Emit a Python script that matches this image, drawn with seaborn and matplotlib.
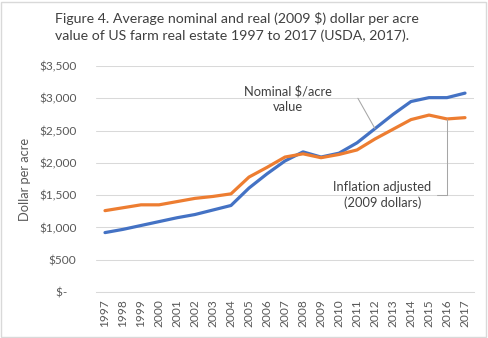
import matplotlib
matplotlib.use("Agg")
import matplotlib.pyplot as plt
import seaborn as sns
import pandas as pd
from matplotlib.patches import Rectangle

years = list(range(1997, 2018))
nominal = [920, 970, 1030, 1090, 1150, 1200, 1270, 1340, 1610, 1830,
           2030, 2170, 2090, 2150, 2310, 2530, 2750, 2950, 3010, 3010, 3080]
real = [1260, 1305, 1350, 1350, 1400, 1450, 1480, 1520, 1780, 1930,
        2090, 2140, 2080, 2130, 2200, 2370, 2520, 2670, 2740, 2680, 2700]
series_names = ["Nominal $/acre value", "Inflation adjusted (2009 dollars)"]
y_ticks = [0, 500, 1000, 1500, 2000, 2500, 3000, 3500]
y_labels = ["$-   ", "$500", "$1,000", "$1,500", "$2,000", "$2,500", "$3,000", "$3,500"]
title = "Figure 4. Average nominal and real (2009 $) dollar per acre\nvalue of US farm real estate 1997 to 2017 (USDA, 2017)."

df = pd.DataFrame({
    "year": years * 2,
    "value": nominal + real,
    "series": [series_names[0]] * len(years) + [series_names[1]] * len(years),
})

sns.set_theme(style="white")
plt.rcParams["font.family"] = ["Lato", "DejaVu Sans"]

W, H = 488, 338
fig = plt.figure(figsize=(W / 100, H / 100), dpi=100)
fig.patch.set_facecolor("white")
fig.add_artist(Rectangle((1 / W, 1 / H), 1 - 3 / W, 1 - 3 / H, transform=fig.transFigure,
                         fill=False, edgecolor="#d9d9d9", lw=1))

ax = fig.add_axes([96 / W, 1 - 292 / H, (474 - 96) / W, (292 - 66) / H])
sns.lineplot(data=df, x="year", y="value", hue="series",
             palette=["#4472C4", "#ED7D31"], lw=2.3, ax=ax, legend=False)

ax.set_xlim(years[0] - 0.5, years[-1] + 0.5)
ax.set_ylim(0, 3500)
ax.set_yticks(y_ticks)
ax.set_yticklabels(y_labels)
ax.set_xticks(years)
ax.set_xticklabels([str(y) for y in years], rotation=90)
ax.tick_params(axis="both", length=0, labelsize=8.6, colors="#595959")
ax.tick_params(axis="y", pad=14)
ax.tick_params(axis="x", pad=5)
ax.grid(axis="y", color="#d9d9d9", lw=0.75)
ax.set_axisbelow(True)
for s in ["top", "left", "right"]:
    ax.spines[s].set_visible(False)
ax.spines["bottom"].set_color("#d9d9d9")
ax.spines["bottom"].set_linewidth(0.75)
ax.set_xlabel("")
ax.set_ylabel("Dollar per acre", fontsize=9.3, color="#595959", labelpad=6)

fig.text(55 / W, 1 - 12 / H, title, ha="left", va="top", fontsize=10.2,
         color="#404040", linespacing=1.45)

ax.text(2007.15, 2990, "Nominal $/acre\nvalue", ha="center", va="center",
        fontsize=9.3, color="#404040", linespacing=1.3)
ax.annotate("", xy=(2012, nominal[15]), xytext=(2011.05, 3000),
            arrowprops=dict(arrowstyle="-", color="#a6a6a6", lw=0.75,
                            shrinkA=0, shrinkB=0))
ax.text(2012.4, 1500, "Inflation adjusted\n(2009 dollars)", ha="center", va="center",
        fontsize=9.3, color="#404040", linespacing=1.3)
ax.plot([2015.45, 2016, 2016], [1500, 1500, real[19]], color="#a6a6a6", lw=0.75)

fig.savefig("out.png", dpi=100)
